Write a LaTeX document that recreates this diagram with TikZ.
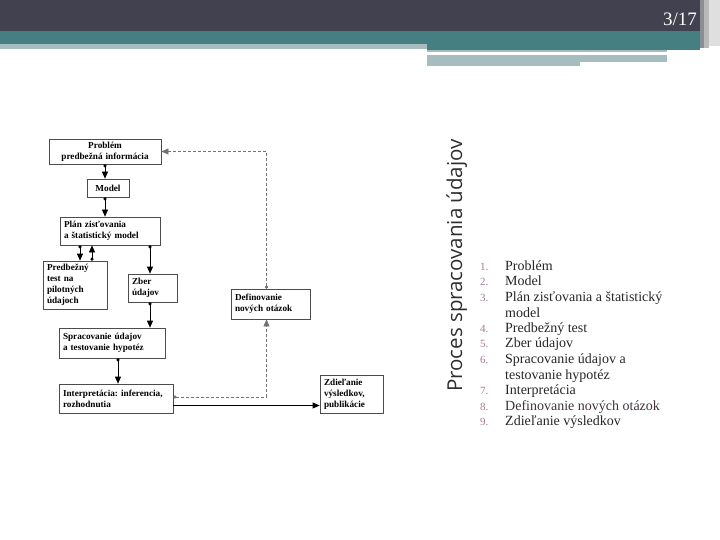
\documentclass[tikz,border=0pt]{standalone}
\usepackage{fontspec}
\setmainfont{Liberation Serif}
\newfontfamily\titlefont{Open Sans}
\usetikzlibrary{arrows.meta}
\frenchspacing

\definecolor{headdark}{HTML}{41414F}
\definecolor{headteal}{HTML}{467F82}
\definecolor{headlight}{HTML}{A6BDC0}
\definecolor{numcol}{HTML}{A27C96}
\definecolor{titlecol}{HTML}{2E2E2E}

\tikzset{
  box/.style={draw=black!70, line width=0.7pt, fill=white, inner xsep=4pt,
    inner ysep=2pt, font=\fontsize{9.2}{11}\selectfont\bfseries, align=left},
  flow/.style={line width=0.7pt, {Circle[length=3.2pt]}-{Triangle[length=7pt,width=6pt]}},
  flowend/.style={line width=0.7pt, -{Triangle[length=7pt,width=6pt]}},
  back/.style={densely dashed, draw=black!55, line width=0.6pt,
    {Circle[length=3.2pt]}-{Triangle[length=7pt,width=6pt]}},
  item/.style={anchor=base west, inner sep=0pt, font=\fontsize{14}{15}\selectfont, text=black!85},
  num/.style={anchor=base west, inner sep=0pt, font=\fontsize{11}{12}\selectfont, text=numcol},
}

\begin{document}
\begin{tikzpicture}[x=1pt,y=-1pt]
  \useasboundingbox (0,0) rectangle (720,540);
  % header bands
  \fill[headdark] (0,0) rectangle (700,31);
  \fill[headteal] (0,31) rectangle (700,44);
  \fill[headlight] (0,44) rectangle (427,49);
  \fill[headteal] (427,44) rectangle (700,50);
  \fill[headlight] (427,50) rectangle (580,66);
  \fill[headlight] (580,50) rectangle (667,62);
  \fill[white] (427,52.5) rectangle (667,55.5);
  \fill[headdark!60!white] (700,0) rectangle (704,48);
  \fill[gray!55] (704,0) rectangle (709,48);
  \fill[gray!25] (709,0) rectangle (720,46);
  \node[anchor=base east, inner sep=0pt, text=white, font=\fontsize{19}{22}\selectfont] (page) at (697,26) {3/17};

  % flow chart
  \node[box, text width=104pt, align=center, minimum height=25pt] (prob) at (105,151.5) {Problém\\predbežná informácia};
  \node[box, text width=34pt, align=center, minimum height=18pt] (model) at (108,188) {Model};
  \node[box, text width=92pt, minimum height=28pt] (plan) at (110,231) {Plán zisťovania\\a štatistický model};
  \node[box, text width=56pt, minimum height=48pt] (pred) at (75,285) {Predbežný\\test na\\pilotných\\údajoch};
  \node[box, text width=41pt, minimum height=28pt] (zber) at (152.5,288) {Zber\\údajov};
  \node[box, text width=98pt, minimum height=30pt] (sprac) at (112,343) {Spracovanie údajov\\a testovanie hypotéz};
  \node[box, text width=106pt, minimum height=29pt] (interp) at (116,398.5) {Interpretácia: inferencia,\\rozhodnutia};
  \node[box, text width=71pt, minimum height=30pt] (defin) at (270.5,304) {Definovanie\\nových otázok};
  \node[box, text width=55pt, minimum height=38pt] (zdiel) at (351.5,394) {Zdieľanie\\výsledkov,\\publikácie};

  \draw[flow] (prob.south) -- (prob.south |- model.north);
  \draw[flow] (prob.south |- model.south) -- (prob.south |- plan.north);
  \draw[flow] ([xshift=5pt]pred.north |- plan.south) -- ([xshift=5pt]pred.north);
  \draw[flow] ([xshift=17pt]pred.north) -- ([xshift=17pt]pred.north |- plan.south);
  \draw[flow] ([xshift=-2.5pt]zber.north |- plan.south) -- ([xshift=-2.5pt]zber.north);
  \draw[flow] ([xshift=-2.5pt]zber.south) -- ([xshift=-2.5pt]zber.south |- sprac.north);
  \draw[flow] ([xshift=2pt]interp.north |- sprac.south) -- ([xshift=2pt]interp.north);
  \draw[back] ([yshift=1.5pt]interp.east) -| ([xshift=-4pt]defin.south);
  \draw[back] ([xshift=-4pt]defin.north) |- (prob.east);
  \draw[flowend] ([yshift=-7pt]interp.east) -- ([yshift=-7pt]interp.east -| zdiel.west);

  % side title
  \node[anchor=base west, rotate=90, inner sep=0pt, text=titlecol,
    font=\titlefont\fontsize{20.5}{24}\selectfont] (title) at (462,392) {Proces spracovania údajov};

  % list
  \node[num] (n1) at (480,270) {1.};
  \node[item] (i1) at (505,270) {Problém};
  \node[num] (n2) at (480,285.5) {2.};
  \node[item] (i2) at (505,285.5) {Model};
  \node[num] (n3) at (480,301) {3.};
  \node[item] (i3) at (505,301) {Plán zisťovania a štatistický};
  \node[item] (i3b) at (505,317) {model};
  \node[num] (n4) at (480,332) {4.};
  \node[item] (i4) at (505,332) {Predbežný test};
  \node[num] (n5) at (480,347.5) {5.};
  \node[item] (i5) at (505,347.5) {Zber údajov};
  \node[num] (n6) at (480,363) {6.};
  \node[item] (i6) at (505,363) {Spracovanie údajov a};
  \node[item] (i6b) at (505,379) {testovanie hypotéz};
  \node[num] (n7) at (480,394) {7.};
  \node[item] (i7) at (505,394) {Interpretácia};
  \node[num] (n8) at (480,410) {8.};
  \node[item, text=black!60!numcol] (i8) at (505,410) {Definovanie nových otázok};
  \node[num] (n9) at (480,425) {9.};
  \node[item] (i9) at (505,425) {Zdieľanie výsledkov};
\end{tikzpicture}
\end{document}
